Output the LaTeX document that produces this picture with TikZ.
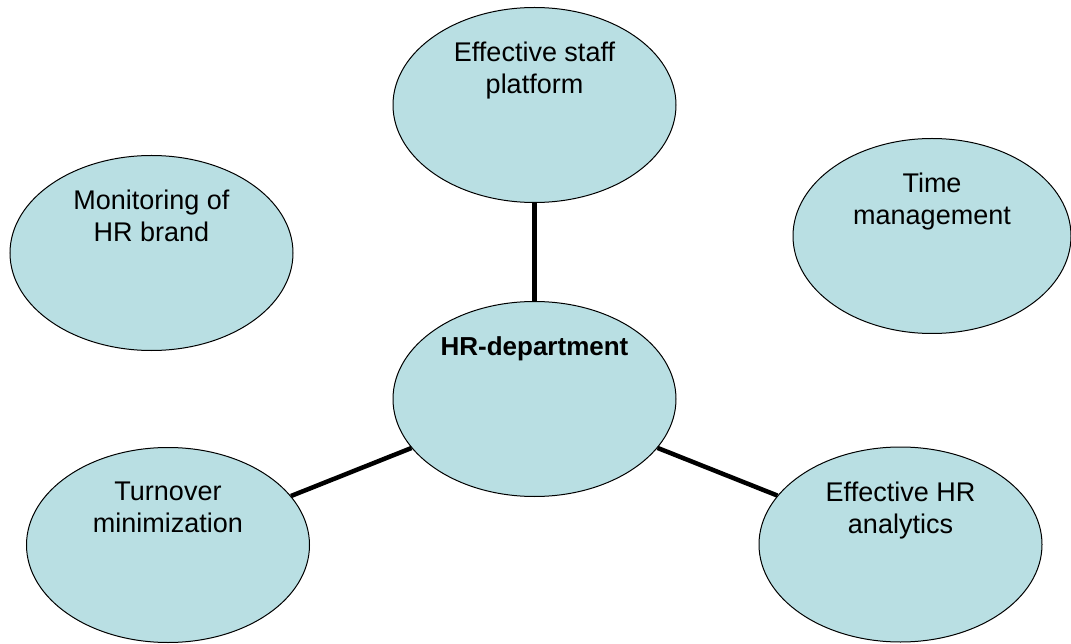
\documentclass[tikz,border=0pt]{standalone}
\usepackage{fontspec}
\setmainfont{Liberation Sans}
\usetikzlibrary{shapes.geometric,positioning}
\definecolor{bubblefill}{RGB}{185,223,227}
\begin{document}
\begin{tikzpicture}[x=1pt,y=1pt,
    bubble/.style={ellipse,draw,line width=1pt,fill=bubblefill,minimum width=283pt,minimum height=195pt,inner sep=0pt},
    txt/.style={align=center,inner sep=0pt,font=\fontsize{27}{32}\selectfont},
    link/.style={line width=4.5pt}]
\useasboundingbox (0,0) rectangle (1071,-644);
\node[bubble] (platform) at (534.5,-105) {};
\node[bubble] (brand) at (151.5,-253) {};
\node[bubble,minimum width=278pt] (timing) at (932,-236) {};
\node[bubble] (hrdept) at (534.5,-399) {};
\node[bubble] (turnover) at (168,-545) {};
\node[bubble] (analytics) at (900.5,-544.5) {};

\node[txt,below=35pt of platform.north] (platform-t) {Effective staff\\platform};
\node[txt,below=35pt of brand.north] (brand-t) {Monitoring of\\HR brand};
\node[txt,below=35pt of timing.north] (timing-t) {Time\\management};
\node[txt,below=35pt of hrdept.north,font=\fontsize{26}{32}\selectfont\bfseries] (hrdept-t) {HR-department};
\node[txt,below=35pt of turnover.north] (turnover-t) {Turnover\\minimization};
\node[txt,below=35pt of analytics.north] (analytics-t) {Effective HR\\analytics};

\draw[link] (platform) -- (hrdept);
\draw[link] (hrdept) -- (turnover);
\draw[link] (hrdept) -- (analytics);
\end{tikzpicture}
\end{document}
